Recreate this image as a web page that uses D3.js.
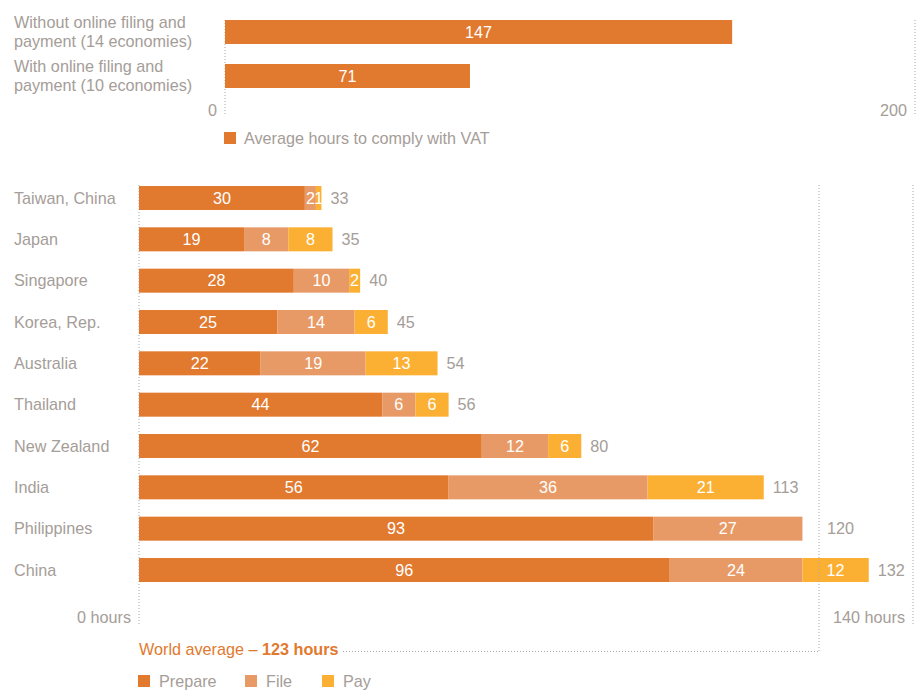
<!DOCTYPE html>
<html>
<head>
<meta charset="utf-8">
<script src="https://cdn.jsdelivr.net/npm/d3@7"></script>
<style>
  body { margin: 0; background: #fff; }
  text { font-family: "Liberation Sans", Arial, Helvetica, sans-serif; }
</style>
</head>
<body>
<svg id="chart" width="922" height="691"></svg>
<script>
// ---- Data ----
const topCategories = [
  ["Without online filing and", "payment (14 economies)"],
  ["With online filing and", "payment (10 economies)"]
];
const topValues = [147, 71];
const topTicks = [0, 200];
const topLegend = "Average hours to comply with VAT";

const countries = ["Taiwan, China", "Japan", "Singapore", "Korea, Rep.", "Australia", "Thailand", "New Zealand", "India", "Philippines", "China"];
const prepare = [30, 19, 28, 25, 22, 44, 62, 56, 93, 96];
const file    = [2, 8, 10, 14, 19, 6, 12, 36, 27, 24];
const pay     = [1, 8, 2, 6, 13, 6, 6, 21, 0, 12];
const totals  = [33, 35, 40, 45, 54, 56, 80, 113, 120, 132];
const seriesNames = ["Prepare", "File", "Pay"];
const bottomTicks = [0, 140];
const worldAverage = 123;

// ---- Styles ----
const colors = ["#E1792F", "#E89A66", "#FBB034"];
const grey = "#A59D98";
const dotGrey = "#A8A8A8";
const fs = 16.2;
const dy = 1.5;

const svg = d3.select("#chart");

// ---- Top chart ----
const xTop = d3.scaleLinear().domain([0, 200]).range([225, 915]);
const yTop = d3.scalePoint().domain(d3.range(topValues.length)).range([32, 76]);
const topH = 24;

topTicks.forEach(t => {
  svg.append("line")
    .attr("x1", xTop(t)).attr("x2", xTop(t))
    .attr("y1", 20).attr("y2", 116)
    .attr("stroke", dotGrey).attr("stroke-width", 1)
    .attr("stroke-dasharray", "1,2");
  svg.append("text")
    .attr("x", xTop(t) - 8).attr("y", 110 + dy)
    .attr("text-anchor", "end").attr("dominant-baseline", "middle")
    .attr("font-size", fs).attr("fill", grey)
    .text(t);
});

topValues.forEach((v, i) => {
  svg.append("rect")
    .attr("x", xTop(0)).attr("y", yTop(i) - topH / 2)
    .attr("width", xTop(v) - xTop(0)).attr("height", topH)
    .attr("fill", colors[0]);
  svg.append("text")
    .attr("x", (xTop(0) + xTop(v)) / 2).attr("y", yTop(i) + dy)
    .attr("text-anchor", "middle").attr("dominant-baseline", "middle")
    .attr("font-size", fs).attr("fill", "#fff")
    .text(v);
  topCategories[i].forEach((line, j) => {
    svg.append("text")
      .attr("x", 14).attr("y", yTop(i) - 10 + j * 19 + dy + 0.5)
      .attr("dominant-baseline", "middle")
      .attr("font-size", fs).attr("fill", grey)
      .text(line);
  });
});

svg.append("rect").attr("x", 224).attr("y", 132).attr("width", 12).attr("height", 12).attr("fill", colors[0]);
svg.append("text").attr("x", 244).attr("y", 138 + dy)
  .attr("dominant-baseline", "middle").attr("font-size", fs).attr("fill", grey)
  .text(topLegend);

// ---- Bottom chart ----
const x = d3.scaleLinear().domain([0, 140]).range([139, 913]);
const y = d3.scalePoint().domain(countries).range([198, 570]);
const barH = 24;

bottomTicks.forEach(t => {
  svg.append("line")
    .attr("x1", x(t)).attr("x2", x(t))
    .attr("y1", 185).attr("y2", 626)
    .attr("stroke", dotGrey).attr("stroke-width", 1)
    .attr("stroke-dasharray", "1,2");
  svg.append("text")
    .attr("x", x(t) - 8).attr("y", 617 + dy)
    .attr("text-anchor", "end").attr("dominant-baseline", "middle")
    .attr("font-size", fs).attr("fill", grey)
    .text(t + " hours");
});

const rows = countries.map((c, i) => ({ c, vals: [prepare[i], file[i], pay[i]], total: totals[i] }));
const avgX = x(worldAverage);

rows.forEach(r => {
  let acc = 0;
  r.vals.forEach((v, k) => {
    if (v > 0) {
      svg.append("rect")
        .attr("x", x(acc)).attr("y", y(r.c) - barH / 2)
        .attr("width", x(acc + v) - x(acc)).attr("height", barH)
        .attr("fill", colors[k]);
      svg.append("text")
        .attr("x", (x(acc) + x(acc + v)) / 2).attr("y", y(r.c) + dy)
        .attr("text-anchor", "middle").attr("dominant-baseline", "middle")
        .attr("font-size", fs).attr("fill", "#fff")
        .text(v);
    }
    acc += v;
  });
  svg.append("text")
    .attr("x", 14).attr("y", y(r.c) + dy)
    .attr("dominant-baseline", "middle")
    .attr("font-size", fs).attr("fill", grey)
    .text(r.c);
  let tx = x(acc) + 9;
  if (tx < avgX + 8 && tx + 30 > avgX - 4) tx = avgX + 8;
  svg.append("text")
    .attr("x", tx).attr("y", y(r.c) + dy)
    .attr("dominant-baseline", "middle")
    .attr("font-size", fs).attr("fill", grey)
    .text(r.total);
});

svg.append("line")
  .attr("x1", avgX).attr("x2", avgX).attr("y1", 185).attr("y2", 652)
  .attr("stroke", dotGrey).attr("stroke-width", 1).attr("stroke-dasharray", "1,2");
svg.append("line")
  .attr("x1", 343).attr("x2", avgX).attr("y1", 651.5).attr("y2", 651.5)
  .attr("stroke", dotGrey).attr("stroke-width", 1).attr("stroke-dasharray", "1,2");
const avgText = svg.append("text")
  .attr("x", 139).attr("y", 649 + dy)
  .attr("dominant-baseline", "middle")
  .attr("font-size", fs).attr("fill", "#E1792F");
avgText.append("tspan").text("World average – ");
avgText.append("tspan").attr("font-weight", "bold").text(worldAverage + " hours");

const legX = [138, 245, 322];
seriesNames.forEach((s, k) => {
  svg.append("rect").attr("x", legX[k]).attr("y", 675).attr("width", 12).attr("height", 12).attr("fill", colors[k]);
  svg.append("text").attr("x", legX[k] + 21).attr("y", 681 + dy)
    .attr("dominant-baseline", "middle").attr("font-size", fs).attr("fill", grey)
    .text(s);
});
</script>
</body>
</html>
